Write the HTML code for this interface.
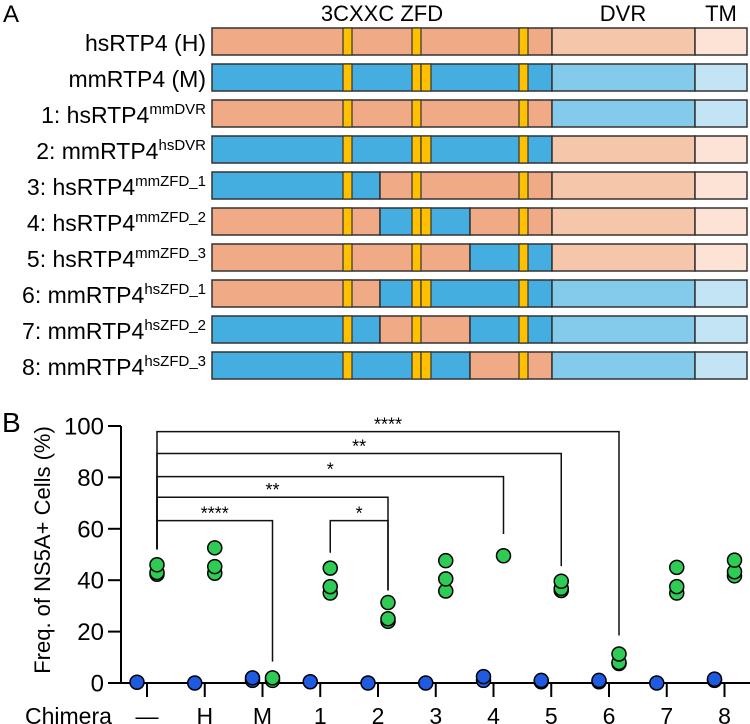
<!DOCTYPE html>
<html><head><meta charset="utf-8"><style>
html,body{margin:0;padding:0;background:#fff;}
svg{display:block;font-family:"Liberation Sans",Arial,sans-serif;}
</style></head><body>
<svg id="fig" width="750" height="724" viewBox="0 0 750 724">
<text x="3" y="22" font-size="24">A</text>
<text x="382" y="21" font-size="22" text-anchor="middle">3CXXC ZFD</text>
<text x="623" y="21" font-size="22" text-anchor="middle">DVR</text>
<text x="721" y="21" font-size="22" text-anchor="middle">TM</text>
<g id="diagram"></g>
<text x="2" y="432" font-size="28">B</text>
<text transform="translate(50,550) rotate(-90)" font-size="22" text-anchor="middle">Freq. of NS5A+ Cells (%)</text>
<g id="chart"></g>
</svg>
<script>
// ---- diagram data ----
const rowNames = ["hsRTP4 (H)","mmRTP4 (M)","1: hsRTP4","2: mmRTP4","3: hsRTP4","4: hsRTP4","5: hsRTP4","6: mmRTP4","7: mmRTP4","8: mmRTP4"];
const rowSups = ["","","mmDVR","hsDVR","mmZFD_1","mmZFD_2","mmZFD_3","hsZFD_1","hsZFD_2","hsZFD_3"];
const rowPatterns = ["ooooo","bbbbb","ooobb","bbboo","boooo","obooo","ooboo","obbbb","bobbb","bbobb"];

// ---- chart data ----
const categories = ["—","H","M","1","2","3","4","5","6","7","8"];
const greenVals = [[42.3,43,46],[42.7,45.3,52.6],[1,2],[35,37.5,44.7],[24,25,31.3],[35.8,40.5,47.6],[49.5],[36,36.8,39.6],[7.6,8,11.3],[35,37.5,45],[41.7,43.3,47.8]];
const blueVals = [[0.3],[0],[1,2],[0.5],[0],[0],[1,2.5],[0.5,1],[0.5,1],[0],[1,1.5]];
const yTicks = [0,20,40,60,80,100];
const bracketFrom = [0,0,0,0,0,3];
const bracketTo = [2,4,6,7,8,4];
const bracketLevel = [63.2,72.3,80.3,89.3,97.8,63.2];
const bracketFromBottom = [52,52,52,52,52,50.7];
const bracketToBottom = [8.3,36,58,45.5,18.5,36];
const bracketStars = ["****","**","*","**","****","*"];

const NS="http://www.w3.org/2000/svg";
function mk(tag,attrs,parent){const e=document.createElementNS(NS,tag);for(const k in attrs)e.setAttribute(k,attrs[k]);parent.appendChild(e);return e;}

// diagram
const dg=document.getElementById('diagram');
const C={o:"#F0AA86",b:"#45AEE0",dvro:"#F5C6AA",dvrb:"#84CAEA",tmo:"#FCE3D6",tmb:"#C2E4F4",y:"#FFC000"};
const segX=[[212,380],[380,470],[470,552],[552,695],[695,747]];
rowNames.forEach((nm,i)=>{
  const y=28+36*i,h=27;
  const pat=rowPatterns[i];
  const lab=mk('text',{x:206,y:y+23,'font-size':23,'text-anchor':'end'},dg);
  
  
  lab.appendChild(document.createTextNode(nm));
  if(rowSups[i]){const t=mk('tspan',{'font-size':15,dy:-9},lab);t.textContent=rowSups[i];}
  // merge same-coloured ZFD segments
  const segs=[];
  for(let s=0;s<5;s++){
    const c=pat[s];
    let fill=s<3?C[c]:(s===3?(c==='o'?C.dvro:C.dvrb):(c==='o'?C.tmo:C.tmb));
    const last=segs[segs.length-1];
    if(s<3&&last&&last.s<3&&last.fill===fill){last.x2=segX[s][1];}
    else segs.push({s:s,x1:segX[s][0],x2:segX[s][1],fill:fill});
  }
  segs.forEach(g=>{
    const r=mk('rect',{x:g.x1,y:y,width:g.x2-g.x1,height:h,fill:g.fill,stroke:"#333",'stroke-width':1.5},dg);
    
    
  });
  const ys=[[343,352],[412,421],[519,528]];
  if(pat[1]==='b')ys.push([421,431]);
  ys.forEach(a=>{const r=mk('rect',{x:a[0],y:y,width:a[1]-a[0],height:h,fill:C.y,stroke:"#333",'stroke-width':1.2},dg);
    
    });
});

// chart
const ch=document.getElementById('chart');
const xs=i=>147+57.75*i;
const ys=v=>683-2.57*v;
const ax=mk('line',{x1:121,y1:ys(100),x2:121,y2:ys(0),stroke:"#000",'stroke-width':2},ch);


const xa=mk('line',{x1:120,y1:ys(0),x2:750,y2:ys(0),stroke:"#000",'stroke-width':2},ch);


yTicks.forEach(t=>{
  mk('line',{x1:108,y1:ys(t),x2:121,y2:ys(t),stroke:"#000",'stroke-width':2},ch);
  const tx=mk('text',{x:104,y:ys(t)+8.5,'font-size':24,'text-anchor':'end'},ch);
  
  
  tx.textContent=t;
});
const cl=mk('text',{x:25,y:724,'font-size':23},ch);


cl.textContent="Chimera";
categories.forEach((c,i)=>{
  mk('line',{x1:xs(i),y1:ys(0),x2:xs(i),y2:697,stroke:"#000",'stroke-width':2},ch);
  const tx=mk('text',{x:xs(i),y:724,'font-size':23,'text-anchor':'middle'},ch);
  
  
  tx.textContent=c;
});
// brackets
bracketFrom.forEach((f,k)=>{
  const x1=xs(f)+10,x2=xs(bracketTo[k])+10,yl=ys(bracketLevel[k]);
  const pth=mk('path',{d:`M${x1},${ys(bracketFromBottom[k])}V${yl}H${x2}V${ys(bracketToBottom[k])}`,fill:"none",stroke:"#111",'stroke-width':1.5},ch);
  
  
  const st=mk('text',{x:(x1+x2)/2,y:yl-1,'font-size':18,'text-anchor':'middle'},ch);
  
  
  st.textContent=bracketStars[k];
});
// points
categories.forEach((c,i)=>{
  blueVals[i].forEach(v=>{
    const p=mk('circle',{cx:xs(i)-10,cy:ys(v),r:7,fill:"#1E5BE0",stroke:"#000",'stroke-width':1.5},ch);
    
    
  });
  greenVals[i].forEach(v=>{
    const p=mk('circle',{cx:xs(i)+10,cy:ys(v),r:7,fill:"#2ECC55",stroke:"#000",'stroke-width':1.5},ch);
    
    
  });
});
</script>
</body></html>
